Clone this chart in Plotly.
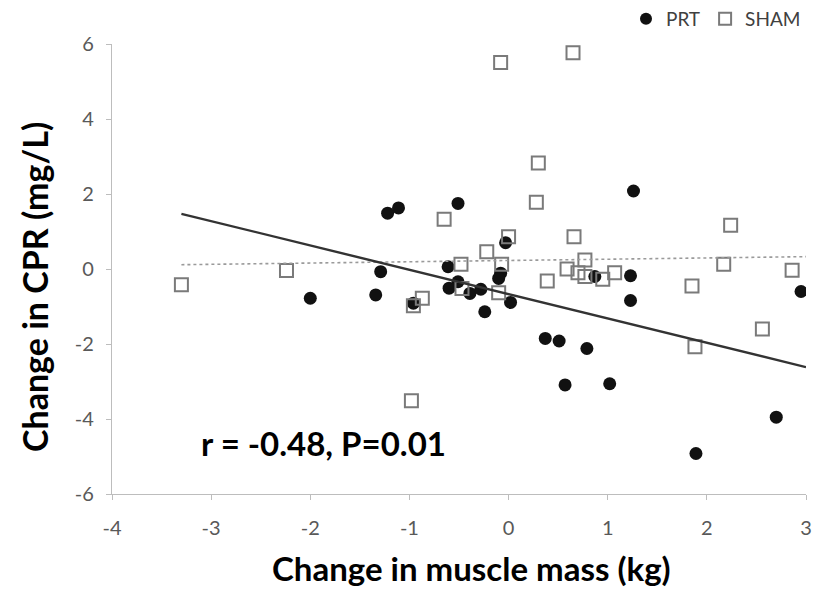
import numpy as np
import plotly.graph_objects as go

# ---- data ----
prt_x = [-2.00, -1.34, -1.29, -1.22, -1.11, -0.96, -0.51, -0.61, -0.60, -0.51,
         -0.39, -0.28, -0.24, -0.08, -0.10, -0.03, 0.02, 0.37, 0.51, 0.79,
         0.87, 1.02, 0.57, 1.23, 1.23, 1.26, 1.89, 2.70, 2.95]
prt_y = [-0.78, -0.69, -0.07, 1.49, 1.63, -0.91, 1.75, 0.06, -0.51, -0.34,
         -0.65, -0.54, -1.14, -0.11, -0.25, 0.70, -0.89, -1.85, -1.92, -2.12,
         -0.20, -3.06, -3.09, -0.18, -0.84, 2.08, -4.92, -3.95, -0.60]

sham_x = [-3.30, -2.24, -0.87, -0.96, -0.98, -0.65, -0.48, -0.47, -0.22, -0.07,
          -0.10, 0.00, -0.08, 0.30, 0.28, 0.39, 0.59, 0.65, 0.66, 0.70,
          0.77, 0.77, 0.95, 1.07, 1.85, 1.88, 2.17, 2.24, 2.56, 2.86]
sham_y = [-0.42, -0.04, -0.78, -0.98, -3.51, 1.33, 0.13, -0.52, 0.46, 0.13,
          -0.63, 0.86, 5.51, 2.83, 1.78, -0.32, 0.00, 5.77, 0.86, -0.10,
          0.24, -0.20, -0.27, -0.10, -0.45, -2.07, 0.13, 1.17, -1.60, -0.03]

trend_x = [-3.3, 3.0]
prt_trend = {"slope": -0.649, "intercept": -0.67}
sham_trend = {"slope": 0.034, "intercept": 0.227}

x_ticks = [-4, -3, -2, -1, 0, 1, 2, 3]
y_ticks = [-6, -4, -2, 0, 2, 4, 6]

stat_text = "r = -0.48, P=0.01"
x_title = "Change in muscle mass (kg)"
y_title = "Change in CPR (mg/L)"

FONT = "Lato"

tx = np.array(trend_x)

fig = go.Figure()
fig.add_trace(go.Scatter(
    x=prt_x, y=prt_y, mode="markers", name="PRT",
    marker=dict(symbol="circle", size=13, color="#111111"),
))
fig.add_trace(go.Scatter(
    x=sham_x, y=sham_y, mode="markers", name="SHAM",
    marker=dict(symbol="square-open", size=13, color="#7a7a7a",
                line=dict(width=2, color="#7a7a7a")),
))
fig.add_trace(go.Scatter(
    x=tx, y=sham_trend["intercept"] + sham_trend["slope"] * tx,
    mode="lines", showlegend=False, hoverinfo="skip",
    line=dict(color="#9a9a9a", width=1.6, dash="dot"),
))
fig.add_trace(go.Scatter(
    x=tx, y=prt_trend["intercept"] + prt_trend["slope"] * tx,
    mode="lines", showlegend=False, hoverinfo="skip",
    line=dict(color="#333333", width=2.4),
))

pw, ph = 818 - 112 - 12, 590 - 44 - 96

fig.update_layout(
    width=818, height=590,
    margin=dict(l=112, r=12, t=44, b=96, autoexpand=False),
    plot_bgcolor="white", paper_bgcolor="white",
    font=dict(family=FONT, color="#595959"),
    showlegend=True,
    legend=dict(orientation="h", xanchor="right", x=1.0, yanchor="top", y=1.098,
                font=dict(family=FONT, size=19, color="#404040"),
                itemsizing="constant", itemwidth=30, tracegroupgap=0,
                bgcolor="rgba(0,0,0,0)"),
    xaxis=dict(range=[-4, 3], tickvals=x_ticks, ticktext=[str(v) for v in x_ticks],
               showgrid=False, zeroline=False, showline=True, linecolor="#bdbdbd",
               linewidth=1.3, ticks="outside", ticklen=5, tickcolor="#bdbdbd",
               tickfont=dict(family=FONT, size=20, color="#595959"),
               ticklabelstandoff=11),
    yaxis=dict(range=[-6, 6], tickvals=y_ticks, ticktext=[str(v) for v in y_ticks],
               showgrid=False, zeroline=False, showline=True, linecolor="#bdbdbd",
               linewidth=1.3, ticks="outside", ticklen=5, tickcolor="#bdbdbd",
               tickfont=dict(family=FONT, size=20, color="#595959"),
               ticklabelstandoff=8),
    annotations=[
        dict(text=stat_text, x=-3.12, y=-4.64, xref="x", yref="y",
             xanchor="left", yanchor="middle", showarrow=False,
             font=dict(family=FONT, size=33, color="#000000", weight="bold")),
        dict(text=x_title, x=(471 - 112) / pw, y=(494 - 568) / ph,
             xref="paper", yref="paper",
             showarrow=False, xanchor="center", yanchor="middle",
             font=dict(family=FONT, size=33, color="#000000", weight="bold")),
        dict(text=y_title, x=(34 - 112) / pw, y=(494 - 287) / ph,
             xref="paper", yref="paper",
             showarrow=False, xanchor="center", yanchor="middle", textangle=-90,
             font=dict(family=FONT, size=34, color="#000000", weight="bold")),
    ],
)

fig.write_html("out.html")
